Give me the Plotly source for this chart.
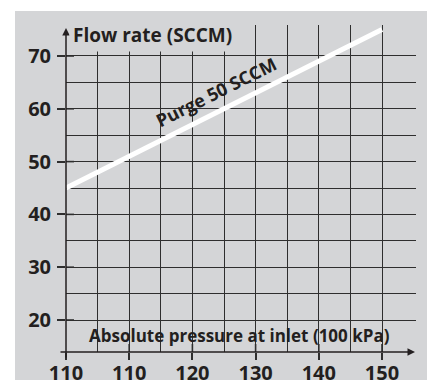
import plotly.graph_objects as go

# Purge flow vs. inlet pressure
pressure = [100, 150]          # absolute pressure at inlet (100 kPa)
flow_rate = [45, 75]           # flow rate (SCCM)

x_tick_vals = [100, 110, 120, 130, 140, 150]
x_tick_text = ["110", "110", "120", "130", "140", "150"]
x_minor_vals = [105, 115, 125, 135, 145]
y_tick_vals = [20, 30, 40, 50, 60, 70]
y_tick_text = ["20", "30", "40", "50", "60", "70"]
y_minor_vals = [25, 35, 45, 55, 65]

line_label = "Purge 50 SCCM"
y_title = "Flow rate (SCCM)"
x_title = "Absolute pressure at inlet (100 kPa)"

W, H = 427, 380
L, R, T, B = 66, 11, 25, 28
X_RANGE = [100, 155.38]
Y_RANGE = [13.94, 75.87]

INK = "#231f20"
GRID = "#2e2e2e"
BG = "#d4d5d7"
FONT = "Open Sans"

pw = W - L - R
ph = H - T - B
xu = pw / (X_RANGE[1] - X_RANGE[0])   # px per x unit
yu = ph / (Y_RANGE[1] - Y_RANGE[0])   # px per y unit

fig = go.Figure()
fig.add_trace(go.Scatter(
    x=pressure, y=flow_rate, mode="lines",
    line=dict(color="white", width=5),
    hoverinfo="skip", showlegend=False,
))

shapes = [
    # grey panel
    dict(type="rect", xref="paper", yref="paper", layer="below",
         x0=(15 - L) / pw, x1=(W - L + 5) / pw,
         y0=-(B + 5) / ph, y1=1 + (T - 11) / ph,
         fillcolor=BG, line=dict(width=0)),
]
# short inner stubs of the major ticks
for v in y_tick_vals:
    shapes.append(dict(type="line", xref="x", yref="y",
                       x0=X_RANGE[0], x1=X_RANGE[0] + 8 / xu, y0=v, y1=v,
                       line=dict(color=GRID, width=1.6)))
for v in x_tick_vals[1:]:
    shapes.append(dict(type="line", xref="x", yref="y",
                       x0=v, x1=v, y0=Y_RANGE[0], y1=Y_RANGE[0] + 8 / yu,
                       line=dict(color=GRID, width=1.6)))

annotations = [
    # y axis with arrow
    dict(x=X_RANGE[0], y=Y_RANGE[1] - 3 / yu, xref="x", yref="y",
         ax=X_RANGE[0], ay=Y_RANGE[0] - 7 / yu, axref="x", ayref="y",
         text="", showarrow=True, arrowhead=2, arrowsize=1,
         arrowwidth=1.5, arrowcolor=INK, standoff=0, startstandoff=0),
    # x axis with arrow
    dict(x=X_RANGE[1] - 1 / xu, y=Y_RANGE[0], xref="x", yref="y",
         ax=X_RANGE[0] - 7 / xu, ay=Y_RANGE[0], axref="x", ayref="y",
         text="", showarrow=True, arrowhead=2, arrowsize=1,
         arrowwidth=1.5, arrowcolor=INK, standoff=0, startstandoff=0),
    dict(x=(69 - L) / pw, y=(352 - 35) / ph, xref="paper", yref="paper",
         xanchor="left", yanchor="middle", showarrow=False,
         text=f"<b>{y_title}</b>", bgcolor=BG, borderpad=3,
         font=dict(family=FONT, size=19, color=INK)),
    dict(x=(239.5 - L) / pw, y=(352 - 335.5) / ph, xref="paper", yref="paper",
         xanchor="center", yanchor="middle", showarrow=False,
         text=f"<b>{x_title}</b>",
         font=dict(family=FONT, size=17, color=INK)),
    dict(x=123.7, y=63.2, xref="x", yref="y",
         xanchor="center", yanchor="middle", showarrow=False,
         text=f"<b>{line_label}</b>", textangle=-26.6,
         font=dict(family=FONT, size=18, color=INK)),
]

fig.update_layout(
    width=W, height=H,
    margin=dict(l=L, r=R, t=T, b=B, pad=0, autoexpand=False),
    paper_bgcolor="white", plot_bgcolor=BG,
    shapes=shapes, annotations=annotations,
    showlegend=False,
    xaxis=dict(
        range=X_RANGE, tickmode="array",
        tickvals=x_tick_vals, ticktext=x_tick_text,
        ticks="outside", ticklen=7, tickwidth=1.6, tickcolor=GRID,
        ticklabelstandoff=-4, automargin=False,
        tickfont=dict(family=FONT, size=20, color=INK, weight="bold"),
        showgrid=True, gridcolor=GRID, gridwidth=1.2,
        minor=dict(tickvals=x_minor_vals, showgrid=True,
                   gridcolor=GRID, gridwidth=1.2, ticks=""),
        showline=False, zeroline=False, fixedrange=True,
    ),
    yaxis=dict(
        range=Y_RANGE, tickmode="array",
        tickvals=y_tick_vals, ticktext=y_tick_text,
        ticks="outside", ticklen=8, tickwidth=1.6, tickcolor=GRID,
        ticklabelstandoff=2, automargin=False,
        tickfont=dict(family=FONT, size=20, color=INK, weight="bold"),
        showgrid=True, gridcolor=GRID, gridwidth=1.2,
        minor=dict(tickvals=y_minor_vals, showgrid=True,
                   gridcolor=GRID, gridwidth=1.2, ticks=""),
        showline=False, zeroline=False, fixedrange=True,
    ),
)

fig.write_html("out.html", config=dict(displayModeBar=False))
